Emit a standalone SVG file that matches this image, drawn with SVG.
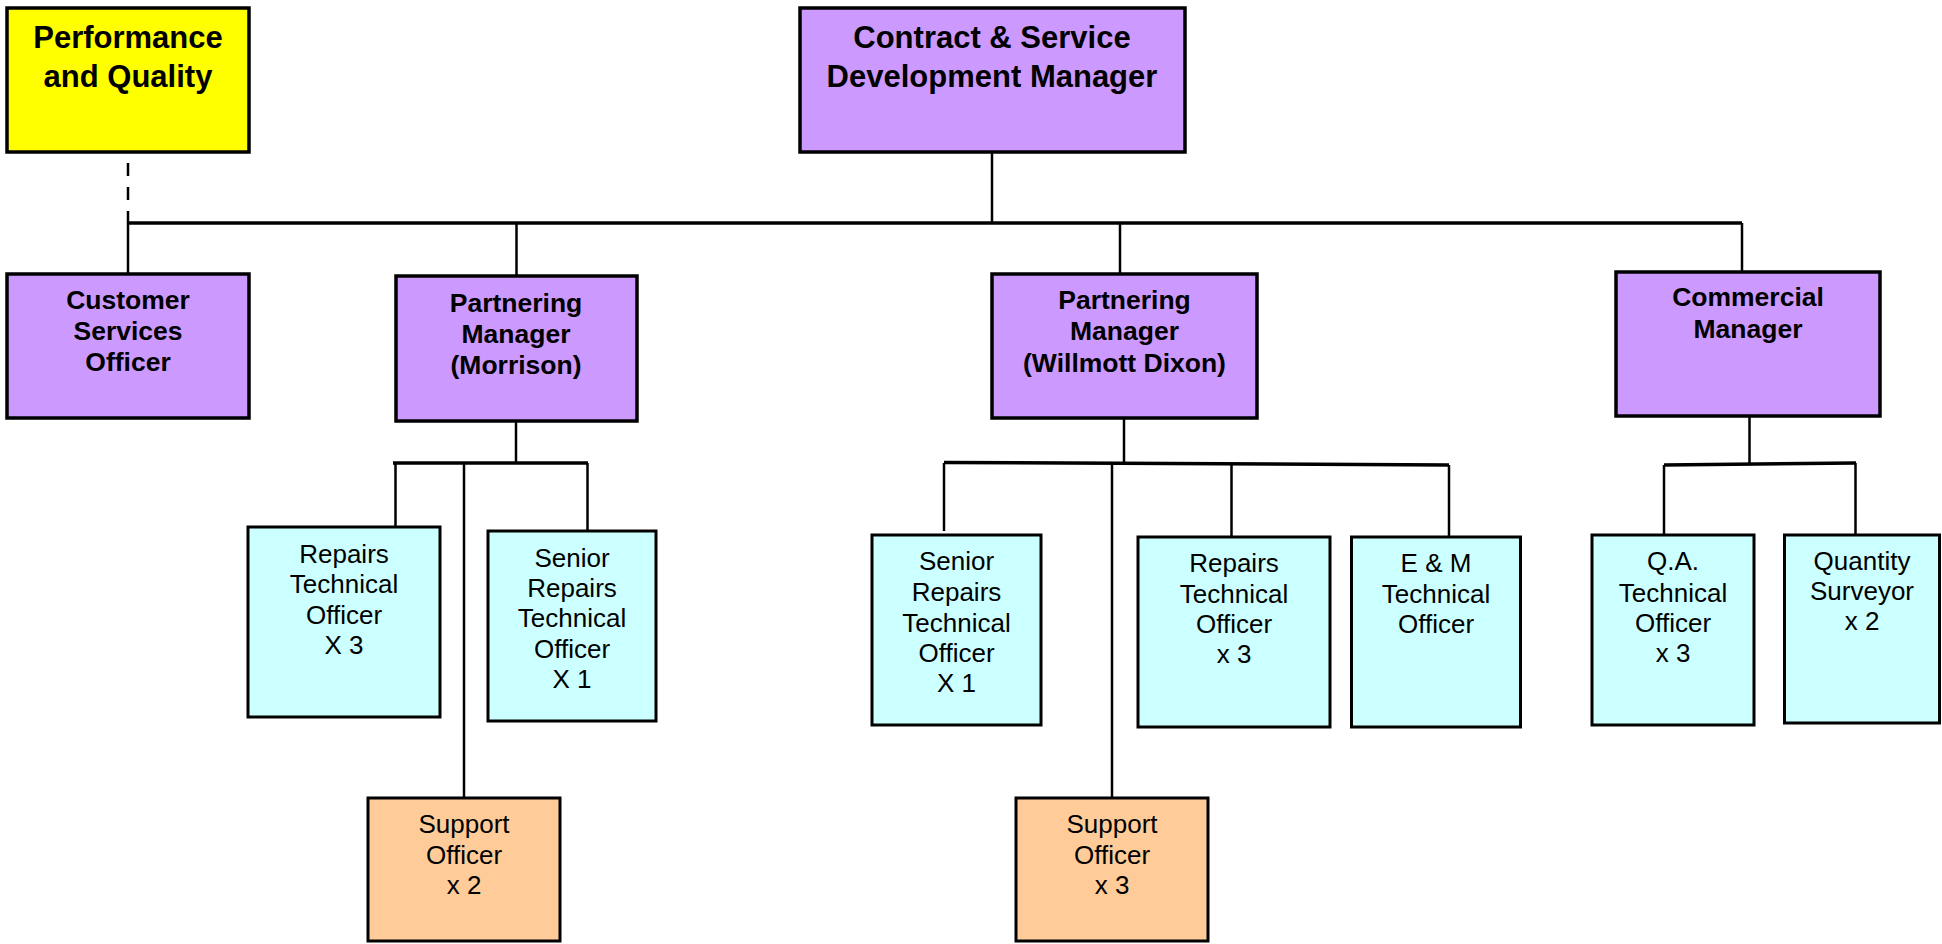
<svg xmlns="http://www.w3.org/2000/svg" width="1942" height="944" viewBox="0 0 1942 944">
<style>
.b{stroke:#000;stroke-width:3.5}
.s{stroke:#000;stroke-width:3}
.y{fill:#FFFF00}
.p{fill:#CC99FF}
.c{fill:#CCFFFF}
.o{fill:#FFCC99}
.tb{font-family:"Liberation Sans",Arial,sans-serif;font-weight:bold;text-anchor:middle;fill:#000}
.t1{font-size:31px}
.t2{font-size:26.5px}
.tr{font-family:"Liberation Sans",Arial,sans-serif;font-size:26px;text-anchor:middle;fill:#000}
.ln{stroke:#000;stroke-width:2.5;fill:none}
.bus{stroke:#000;stroke-width:3.5;fill:none}
</style>
<rect width="1942" height="944" fill="#fff"/>
<g id="connectors">
<path class="ln" d="M128,163V223" stroke-dasharray="13 11"/>
<path class="bus" d="M128,223H1742"/>
<path class="ln" d="M992,152V223"/>
<path class="ln" d="M128,223V273"/>
<path class="ln" d="M516.5,223V275"/>
<path class="ln" d="M1120,223V273"/>
<path class="ln" d="M1742,223V272"/>
<path class="ln" d="M516,421V463"/>
<path class="bus" d="M393,463H588"/>
<path class="ln" d="M395.5,463V527"/>
<path class="ln" d="M464,463V798"/>
<path class="ln" d="M587.5,463V535"/>
<path class="ln" d="M1124,418V463"/>
<path class="bus" d="M944,462.5L1449,465"/>
<path class="ln" d="M944,463V531"/>
<path class="ln" d="M1112,463V798"/>
<path class="ln" d="M1231.5,464V537"/>
<path class="ln" d="M1449,465V537"/>
<path class="ln" d="M1749.5,416V464"/>
<path class="bus" d="M1664,465L1856,463"/>
<path class="ln" d="M1664,465V537"/>
<path class="ln" d="M1855.5,463V535"/>
</g>
<g id="pq">
<rect class="y b" x="7" y="8" width="242" height="144"/>
<text class="tb t1"><tspan x="128" y="48">Performance</tspan><tspan x="128" y="87">and Quality</tspan></text>
</g>
<g id="csdm">
<rect class="p b" x="800" y="8" width="385" height="144"/>
<text class="tb t1"><tspan x="992" y="48">Contract &amp; Service</tspan><tspan x="992" y="87">Development Manager</tspan></text>
</g>
<g id="cso">
<rect class="p b" x="7" y="274" width="242" height="144"/>
<text class="tb t2"><tspan x="128" y="309">Customer</tspan><tspan x="128" y="340">Services</tspan><tspan x="128" y="371">Officer</tspan></text>
</g>
<g id="pm-morrison">
<rect class="p b" x="396" y="276" width="241" height="145"/>
<text class="tb t2"><tspan x="516" y="312">Partnering</tspan><tspan x="516" y="343">Manager</tspan><tspan x="516" y="374">(Morrison)</tspan></text>
</g>
<g id="pm-willmott">
<rect class="p b" x="992" y="274" width="265" height="144"/>
<text class="tb t2"><tspan x="1124.5" y="309">Partnering</tspan><tspan x="1124.5" y="340">Manager</tspan><tspan x="1124.5" y="372">(Willmott Dixon)</tspan></text>
</g>
<g id="commercial">
<rect class="p b" x="1616" y="272" width="264" height="144"/>
<text class="tb t2"><tspan x="1748" y="306">Commercial</tspan><tspan x="1748" y="338">Manager</tspan></text>
</g>
<g id="rto-m">
<rect class="c s" x="248" y="527" width="192" height="190"/>
<text class="tr"><tspan x="344" y="563">Repairs</tspan><tspan x="344" y="593">Technical</tspan><tspan x="344" y="624">Officer</tspan><tspan x="344" y="654">X 3</tspan></text>
</g>
<g id="srto-m">
<rect class="c s" x="488" y="531" width="168" height="190"/>
<text class="tr"><tspan x="572" y="567">Senior</tspan><tspan x="572" y="597">Repairs</tspan><tspan x="572" y="627">Technical</tspan><tspan x="572" y="658">Officer</tspan><tspan x="572" y="688">X 1</tspan></text>
</g>
<g id="so-m">
<rect class="o s" x="368" y="798" width="192" height="143"/>
<text class="tr"><tspan x="464" y="833">Support</tspan><tspan x="464" y="864">Officer</tspan><tspan x="464" y="894">x 2</tspan></text>
</g>
<g id="srto-w">
<rect class="c s" x="872" y="535" width="169" height="190"/>
<text class="tr"><tspan x="956.5" y="570">Senior</tspan><tspan x="956.5" y="601">Repairs</tspan><tspan x="956.5" y="632">Technical</tspan><tspan x="956.5" y="662">Officer</tspan><tspan x="956.5" y="692">X 1</tspan></text>
</g>
<g id="so-w">
<rect class="o s" x="1016" y="798" width="192" height="143"/>
<text class="tr"><tspan x="1112" y="833">Support</tspan><tspan x="1112" y="864">Officer</tspan><tspan x="1112" y="894">x 3</tspan></text>
</g>
<g id="rto-w">
<rect class="c s" x="1138" y="537" width="192" height="190"/>
<text class="tr"><tspan x="1234" y="572">Repairs</tspan><tspan x="1234" y="603">Technical</tspan><tspan x="1234" y="633">Officer</tspan><tspan x="1234" y="663">x 3</tspan></text>
</g>
<g id="em">
<rect class="c s" x="1351.5" y="537" width="169" height="190"/>
<text class="tr"><tspan x="1436" y="572">E &amp; M</tspan><tspan x="1436" y="603">Technical</tspan><tspan x="1436" y="633">Officer</tspan></text>
</g>
<g id="qa">
<rect class="c s" x="1592" y="535" width="162" height="190"/>
<text class="tr"><tspan x="1673" y="570">Q.A.</tspan><tspan x="1673" y="602">Technical</tspan><tspan x="1673" y="632">Officer</tspan><tspan x="1673" y="662">x 3</tspan></text>
</g>
<g id="qs">
<rect class="c s" x="1784.5" y="535" width="155" height="188"/>
<text class="tr"><tspan x="1862" y="570">Quantity</tspan><tspan x="1862" y="600">Surveyor</tspan><tspan x="1862" y="630">x 2</tspan></text>
</g>
</svg>
